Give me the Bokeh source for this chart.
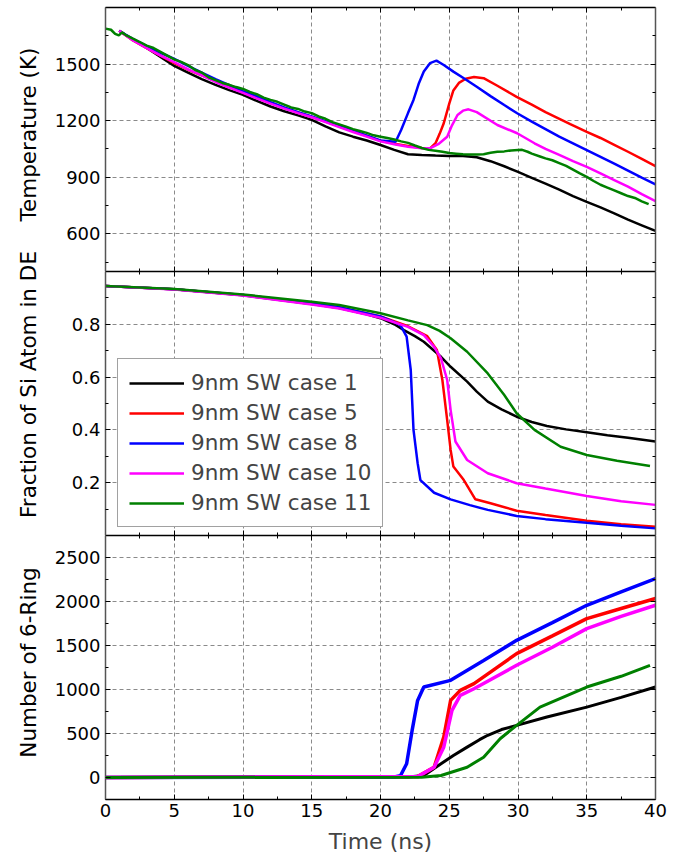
import math
from bokeh.plotting import figure
from bokeh.models import Range1d, LinearAxis, FixedTicker, Legend, LegendItem
from bokeh.layouts import column, row
from bokeh.core.properties import value
from bokeh.embed import file_html
from bokeh.resources import INLINE

FONT = "DejaVu Sans"

case_names = ["9nm SW case 1", "9nm SW case 5", "9nm SW case 8", "9nm SW case 10", "9nm SW case 11"]
case_colors = ["#000000", "#ff0000", "#0000ff", "#ff00ff", "#008000"]
panel_titles = ["Temperature (K)", "Fraction of Si Atom in DE", "Number of 6-Ring"]
x_title = "Time (ns)"

x_ticks = [0, 5, 10, 15, 20, 25, 30, 35, 40]
x_minor = [2.5, 7.5, 12.5, 17.5, 22.5, 27.5, 32.5, 37.5]

# ---------------- Temperature (K) ----------------
temp_t_c1 = [1, 2, 3, 4, 5, 6, 7, 8, 9, 10, 11, 12, 13, 14, 15, 16, 17, 18, 19, 20, 21, 22, 23, 24, 25, 26, 27, 28,
             29, 30, 31, 32, 33, 34, 35, 36, 37, 38, 39, 40]
temp_v_c1 = [1677, 1628, 1585, 1538, 1490, 1455, 1420, 1390, 1362, 1337, 1305, 1275, 1250, 1228, 1204, 1170, 1138,
             1115, 1095, 1071, 1045, 1022, 1018, 1015, 1013, 1012, 1006, 985, 958, 928, 897, 866, 834, 800, 769, 740,
             708, 675, 645, 615]

temp_t_c5 = [1, 2, 3, 4, 5, 6, 7, 8, 9, 10, 11, 12, 13, 14, 15, 16, 17, 18, 19, 20, 21, 22, 23, 23.6, 24.0, 24.3,
             24.6, 25.0, 25.3, 25.7, 26.2, 26.8, 27.5, 28.5, 29.9, 31, 32, 33.8, 35, 36, 37, 38, 39, 40]
temp_v_c5 = [1677, 1625, 1585, 1545, 1505, 1470, 1440, 1410, 1380, 1350, 1322, 1295, 1268, 1243, 1220, 1195, 1170,
             1145, 1120, 1093, 1078, 1065, 1055, 1053, 1080, 1130, 1186, 1290, 1360, 1400, 1422, 1431, 1425, 1385,
             1326, 1285, 1245, 1182, 1141, 1108, 1072, 1035, 997, 959]

temp_t_c8 = [1, 2, 3, 4, 5, 6, 7, 8, 9, 10, 11, 12, 13, 14, 15, 16, 17, 18, 19, 20, 21.1, 21.5, 22.0, 22.4, 22.8,
             23.15, 23.6, 24.07, 24.6, 25.3, 26.06, 27, 28, 29, 29.94, 31, 32, 33, 34, 35, 36, 37, 38, 39, 40]
temp_v_c8 = [1677, 1632, 1595, 1560, 1527, 1490, 1455, 1420, 1388, 1357, 1328, 1298, 1270, 1245, 1222, 1196, 1170,
             1145, 1120, 1095, 1088, 1150, 1240, 1310, 1400, 1461, 1505, 1518, 1495, 1460, 1425, 1380, 1330, 1283,
             1239, 1195, 1155, 1115, 1080, 1044, 1008, 972, 935, 898, 862]

temp_t_c10 = [1, 2, 3, 4, 5, 6, 7, 8, 9, 10, 11, 12, 13, 14, 15, 16, 17, 18, 19, 20, 21, 22, 23, 23.6, 24.2, 24.85,
              25.2, 25.6, 26.0, 26.4, 27, 28.5, 29.94, 31.2, 32, 33, 34, 35, 36, 37, 38, 39, 40]
temp_v_c10 = [1677, 1625, 1585, 1545, 1510, 1472, 1440, 1405, 1375, 1347, 1318, 1290, 1264, 1240, 1218, 1192, 1166,
              1140, 1115, 1090, 1075, 1062, 1054, 1053, 1075, 1115, 1175, 1230, 1253, 1260, 1245, 1177, 1133, 1080,
              1050, 1018, 985, 955, 920, 885, 850, 810, 773]

temp_t_c11 = [0, 0.4, 0.7, 0.97, 1.2, 1.45, 2, 2.5, 3, 3.5, 4, 4.5, 5, 5.5, 6, 6.5, 7, 7.5, 8, 8.5, 9, 9.5, 10, 10.5,
              11, 11.5, 12, 12.5, 13, 13.5, 14, 14.5, 15, 15.5, 16, 16.5, 17, 17.5, 18, 18.5, 19, 19.5, 20, 20.5,
              21, 21.5, 22, 22.5, 23, 23.5, 24, 24.5, 25, 25.5, 26, 26.5, 27, 27.5, 28, 28.5, 29, 29.5, 30, 30.3,
              30.7, 31, 31.6, 32, 32.5, 33, 33.5, 34, 34.5, 35, 35.5, 36, 36.5, 37, 37.5, 38, 38.5, 39, 39.5]
temp_v_c11 = [1688, 1682, 1660, 1652, 1668, 1655, 1635, 1617, 1598, 1585, 1565, 1545, 1525, 1512, 1495, 1470, 1455,
              1430, 1415, 1400, 1390, 1378, 1368, 1352, 1340, 1322, 1310, 1300, 1285, 1270, 1262, 1248, 1240, 1222,
              1210, 1192, 1180, 1168, 1155, 1145, 1135, 1122, 1115, 1108, 1100, 1090, 1082, 1068, 1055, 1045, 1040,
              1035, 1028, 1025, 1022, 1020, 1021, 1022, 1030, 1035, 1037, 1042, 1044, 1045, 1035, 1025, 1010, 1000,
              990, 975, 960, 940, 920, 902, 880, 860, 845, 830, 815, 800, 790, 772, 757]

# ---------------- Fraction of Si atom in DE ----------------
frac_t_c1 = [0, 5, 10, 15, 17, 19, 20, 21, 21.7, 22.5, 23.15, 24.4, 25.1, 26.3, 27, 27.8, 28.8, 29.9, 31, 32.1,
             33.5, 35, 36.5, 38, 40]
frac_v_c1 = [0.945, 0.933, 0.910, 0.877, 0.862, 0.838, 0.823, 0.800, 0.778, 0.755, 0.734, 0.677, 0.639, 0.583,
             0.545, 0.507, 0.478, 0.450, 0.430, 0.415, 0.402, 0.391, 0.380, 0.370, 0.356]

frac_t_c5 = [0, 5, 10, 15, 17, 20, 21.9, 23.4, 24.1, 24.5, 24.85, 25.1, 25.3, 26.06, 26.9, 28.0, 29.9, 32, 35,
             37.5, 40]
frac_v_c5 = [0.945, 0.933, 0.911, 0.880, 0.865, 0.830, 0.795, 0.755, 0.703, 0.589, 0.437, 0.324, 0.261, 0.210,
             0.137, 0.122, 0.094, 0.078, 0.056, 0.043, 0.033]

frac_t_c8 = [0, 5, 10, 15, 17, 20, 21.0, 21.45, 21.9, 22.2, 22.4, 22.7, 22.9, 23.9, 25.1, 26.5, 27.8, 29.9, 32, 35,
             37.5, 40]
frac_v_c8 = [0.945, 0.933, 0.911, 0.880, 0.865, 0.830, 0.808, 0.797, 0.753, 0.627, 0.400, 0.274, 0.210, 0.162,
             0.137, 0.115, 0.097, 0.074, 0.062, 0.048, 0.037, 0.027]

frac_t_c10 = [0, 5, 10, 15, 17, 20, 22, 23.15, 23.9, 24.4, 24.85, 25.1, 25.45, 26.3, 27.8, 29.9, 32, 35, 37.5, 40]
frac_v_c10 = [0.945, 0.932, 0.909, 0.875, 0.860, 0.825, 0.790, 0.759, 0.715, 0.671, 0.589, 0.475, 0.356, 0.286,
              0.236, 0.198, 0.178, 0.150, 0.130, 0.116]

frac_t_c11 = [0, 5, 10, 15, 17, 20, 22, 23.4, 24.3, 25.1, 26.3, 27.8, 29.0, 29.9, 31.2, 33.1, 35, 37.2, 39.6]
frac_v_c11 = [0.945, 0.934, 0.913, 0.885, 0.873, 0.842, 0.815, 0.797, 0.775, 0.747, 0.696, 0.614, 0.532, 0.463,
              0.400, 0.336, 0.305, 0.283, 0.263]

# ---------------- Number of 6-ring ----------------
ring_t_c1 = [0, 22, 23.15, 24.4, 25.3, 26.3, 27.2, 27.8, 28.8, 29.9, 32.1, 35, 37.5, 40]
ring_v_c1 = [0, 5, 23, 156, 250, 345, 430, 480, 545, 592, 687, 800, 910, 1028]

ring_t_c5 = [0, 22.7, 23.9, 24.6, 25.1, 25.8, 26.8, 29.9, 32.5, 35, 37.5, 40]
ring_v_c5 = [0, 10, 117, 459, 876, 990, 1066, 1408, 1610, 1806, 1920, 2034]

ring_t_c8 = [0, 21, 21.45, 21.9, 22.3, 22.7, 23.15, 25.1, 27.5, 29.9, 32.5, 35, 37.5, 40]
ring_v_c8 = [0, 5, 20, 156, 535, 876, 1028, 1104, 1330, 1559, 1760, 1957, 2110, 2261]

ring_t_c10 = [0, 22.7, 23.9, 24.6, 25.2, 25.8, 26.8, 29.9, 32.5, 35, 37.5, 40]
ring_v_c10 = [0, 10, 117, 345, 762, 933, 1009, 1275, 1480, 1692, 1830, 1957]

ring_t_c11 = [0, 23, 24.4, 26.3, 27.5, 28.7, 29.9, 31.6, 35, 37.5, 39.6]
ring_v_c11 = [0, 3, 23, 117, 231, 440, 592, 800, 1028, 1150, 1275]

temp_series = [(temp_t_c1, temp_v_c1), (temp_t_c5, temp_v_c5), (temp_t_c8, temp_v_c8),
               (temp_t_c10, temp_v_c10), (temp_t_c11, temp_v_c11)]
frac_series = [(frac_t_c1, frac_v_c1), (frac_t_c5, frac_v_c5), (frac_t_c8, frac_v_c8),
               (frac_t_c10, frac_v_c10), (frac_t_c11, frac_v_c11)]
ring_series = [(ring_t_c1, ring_v_c1), (ring_t_c5, ring_v_c5), (ring_t_c8, ring_v_c8),
               (ring_t_c10, ring_v_c10), (ring_t_c11, ring_v_c11)]
ring_widths = [3, 3.5, 3.5, 3.5, 3]

TOTAL_H = 858
TITLE_W = 50


def style_axis(ax, ticks, minor, labels=True, frame_color="#000000"):
    ax.ticker = FixedTicker(ticks=ticks, minor_ticks=minor)
    ax.major_tick_in = 5
    ax.major_tick_out = 0
    ax.minor_tick_in = 3
    ax.minor_tick_out = 0
    ax.major_tick_line_color = "#000000"
    ax.minor_tick_line_color = "#000000"
    ax.axis_line_color = frame_color
    ax.axis_line_width = 1.5
    if labels:
        ax.major_label_text_font = FONT
        ax.major_label_text_font_size = "18px"
        ax.major_label_text_color = "#000000"
    else:
        ax.major_label_text_color = None
        ax.major_label_text_font_size = "0px"
        ax.major_label_standoff = 0


def make_panel(height, y0, y1, yticks, yminor, top, bottom, xlabels):
    p = figure(width=680 - TITLE_W, height=height, x_range=Range1d(0, 40), y_range=Range1d(y0, y1),
               output_backend="svg", toolbar_location=None,
               min_border_left=105 - TITLE_W, min_border_right=25, min_border_top=top, min_border_bottom=bottom)
    p.outline_line_color = None
    p.background_fill_color = "#ffffff"
    p.border_fill_color = "#ffffff"
    xa = p.xaxis[0]
    style_axis(xa, x_ticks, x_minor, labels=xlabels)
    if xlabels:
        xa.major_label_standoff = 4
        xa.axis_label = x_title
        xa.axis_label_text_font = FONT
        xa.axis_label_text_font_size = "22px"
        xa.axis_label_text_font_style = "normal"
        xa.axis_label_standoff = 9
    ya = p.yaxis[0]
    style_axis(ya, yticks, yminor, labels=True, frame_color="#555555")
    ya.major_label_standoff = 5
    ta = LinearAxis()
    style_axis(ta, x_ticks, x_minor, labels=False)
    p.add_layout(ta, "above")
    ra = LinearAxis()
    style_axis(ra, yticks, yminor, labels=False, frame_color="#555555")
    p.add_layout(ra, "right")
    p.xgrid.ticker = FixedTicker(ticks=x_ticks)
    p.ygrid.ticker = FixedTicker(ticks=yticks)
    for g in (p.xgrid[0], p.ygrid[0]):
        g.grid_line_color = "#8a8a8a"
        g.grid_line_dash = "4 3"
        g.grid_line_width = 1
    return p


p1 = make_panel(271, 400, 1800, [600, 900, 1200, 1500], [450, 750, 1050, 1350, 1650], 7, 0, False)
for (t, v), c in zip(temp_series, case_colors):
    p1.line(t, v, line_color=c, line_width=2.5)

p2 = make_panel(264, 0, 1.0, [0.2, 0.4, 0.6, 0.8], [0.1, 0.3, 0.5, 0.7, 0.9], 0, 0, False)
items = []
for (t, v), c, name in zip(frac_series, case_colors, case_names):
    r = p2.line(t, v, line_color=c, line_width=2.5)
    items.append(LegendItem(label=name, renderers=[r]))
leg = Legend(items=items, location=(12, 8))
leg.label_text_font = FONT
leg.label_text_font_size = "21.5px"
leg.glyph_width = 55
leg.glyph_height = 24
leg.label_height = 24
leg.label_standoff = 7
leg.spacing = 5
leg.padding = 11
leg.margin = 0
leg.border_line_color = "#444444"
leg.border_line_width = 1.5
leg.background_fill_color = "#ffffff"
leg.background_fill_alpha = 1.0
p2.add_layout(leg, "center")

p3 = make_panel(323, -250, 2750, [0, 500, 1000, 1500, 2000, 2500], [-250, 250, 750, 1250, 1750, 2250],
                0, 59, True)
for (t, v), c, w in zip(ring_series, case_colors, ring_widths):
    p3.line(t, v, line_color=c, line_width=w)

# y-axis titles in a narrow strip to the left (so the long middle title can overhang its panel)
pt = figure(width=TITLE_W, height=TOTAL_H, x_range=Range1d(0, TITLE_W), y_range=Range1d(0, TOTAL_H),
            output_backend="svg", toolbar_location=None, x_axis_location=None, y_axis_location=None,
            min_border=0, min_border_left=0, min_border_right=0, min_border_top=0, min_border_bottom=0)
pt.outline_line_color = None
pt.xgrid.visible = False
pt.ygrid.visible = False
title_centers_from_top = [134, 384, 662]
pt.text(x=[28, 28, 28], y=[TOTAL_H - c for c in title_centers_from_top], text=panel_titles,
        angle=math.pi / 2, text_font=value(FONT), text_font_size="21.5px",
        text_align="center", text_baseline="middle", text_color="#000000")

layout = row(pt, column(p1, p2, p3, spacing=0), spacing=0)

open("out.html", "w").write(file_html(layout, INLINE))
